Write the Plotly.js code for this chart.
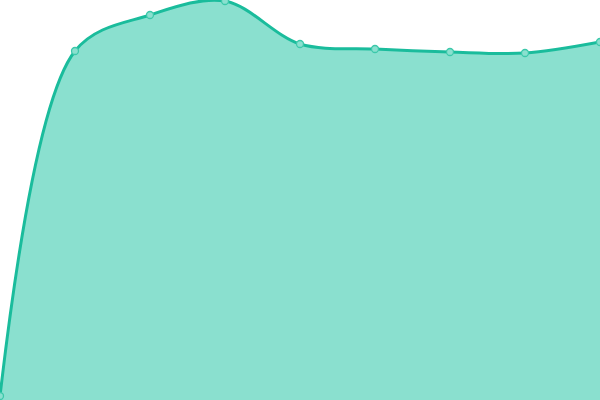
<!DOCTYPE html>
<html>
<head>
<meta charset="utf-8">
<script src="https://cdn.plot.ly/plotly-3.0.1.min.js"></script>
<style>
  html, body { margin: 0; padding: 0; background: #fff; }
  #chart { width: 600px; height: 400px; }
</style>
</head>
<body>
<div id="chart"></div>
<script>
// values (axis hidden, 0 at bottom edge)
var xs = [0, 1, 2, 3, 4, 5, 6, 7, 8];
var vals = [4, 349, 385, 399, 356, 351, 348, 347, 358];

var trace = {
  x: xs,
  y: vals,
  type: 'scatter',
  mode: 'lines+markers',
  fill: 'tozeroy',
  fillcolor: '#8ae0cf',
  line: { color: '#1abc9c', width: 3, shape: 'spline', smoothing: 0.95 },
  marker: { size: 7, color: '#8ae0cf', line: { color: '#3cc8aa', width: 1.3 } },
  hoverinfo: 'none'
};

var layout = {
  width: 600,
  height: 400,
  margin: { l: 0, r: 0, t: 0, b: 0 },
  paper_bgcolor: '#fff',
  plot_bgcolor: '#fff',
  showlegend: false,
  xaxis: { range: [0, 8], visible: false, fixedrange: true },
  yaxis: { range: [0, 400], visible: false, fixedrange: true }
};

Plotly.newPlot('chart', [trace], layout, { staticPlot: true });
</script>
</body>
</html>
